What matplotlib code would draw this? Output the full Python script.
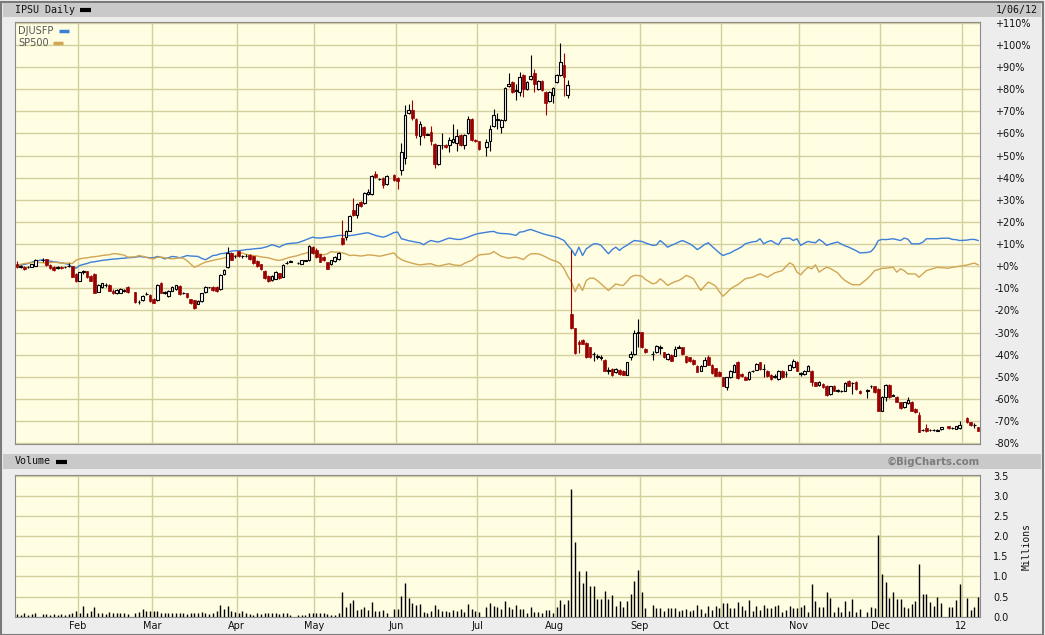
import matplotlib
matplotlib.use("Agg")
import matplotlib.pyplot as plt
from matplotlib.patches import Rectangle
from matplotlib.lines import Line2D
import numpy as np
import pandas as pd

# market holidays inside the weekday grid (BigCharts leaves an empty slot)
holidays = ["2011-01-17", "2011-02-21", "2011-04-22", "2011-05-30", "2011-07-04",
            "2011-09-05", "2011-11-24", "2011-12-26", "2012-01-02"]

# IPSU daily candles, % change from first day (one value per trading day)
opens = [
    1.0, -0.5, -0.3, -0.3, -0.2, 0.2, 2.8, 3.2, 0.5, -0.3, -1.0, -0.3, -0.5, 0.2, 0.0, -3.5,
    -6.5, -2.6, -2.4, -4.5, -3.5, -11.5, -9.5, -8.5, -8.5, -11.0, -12.3, -12.0, -10.8, -9.3, -11.8, -16.0, -15.5, -12.5, -13.0,
    -14.8, -15.3, -7.5, -11.8, -13.5, -11.0, -10.5, -9.0, -12.0, -12.3, -15.0, -15.5, -17.0, -15.8, -11.8, -9.6, -9.3, -9.3, -10.5, -3.5, -0.3, 6.0, 4.5,
    6.8, 4.5, 4.8, 5.2, 4.5, 2.3, 0.8, -2.0, -4.5, -6.3, -5.6, -3.3, -4.8, 1.3, 2.0, 1.6, 1.2, 2.6, 2.8, 8.8,
    7.5, 5.3, 4.1, 1.8, 0.8, 2.4, 3.3, 12.7, 13.1, 16.1, 25.6, 23.2, 29.0, 28.7, 32.5, 32.6, 41.6, 39.6, 39.8, 37.1, 41.3,
    39.8, 43.3, 48.8, 69.4, 70.6, 66.7, 58.8, 62.9, 59.8, 60.6, 55.4, 46.2, 55.0, 54.9, 54.9, 56.1, 55.8, 59.4, 54.9, 60.3, 66.7, 57.2,
    56.4, 53.8, 56.4, 63.3, 65.9, 62.9, 65.9, 81.6, 83.3, 79.7, 78.7, 86.6, 80.2, 84.8, 87.2, 79.9, 83.6, 78.7, 74.5, 77.2,
    83.4, 86.6, 90.8, 77.2, -21.6, -28.1, -34.5, -33.3, -34.7, -36.7, -39.5, -40.8, -41.0, -42.4, -47.0, -46.5, -48.0, -46.8, -47.2, -49.0, -41.2, -39.7, -29.9,
    -29.9, -37.4, -39.5, -38.9, -36.6, -38.9, -41.9, -40.1, -40.4, -36.8, -36.7, -40.7, -41.2, -42.2, -45.0, -47.2, -45.0, -41.0, -44.6, -46.2, -47.7,
    -50.2, -54.6, -50.2, -47.7, -43.1, -48.7, -49.9, -51.0, -47.4, -46.8, -43.4, -46.4, -47.2, -49.2, -49.7, -51.0, -47.2, -48.6, -46.8, -45.7, -43.1,
    -48.3, -48.7, -47.2, -47.2, -52.5, -53.8, -53.2, -54.0, -57.8, -54.0, -56.2, -56.4, -56.3, -51.7, -53.0, -52.2, -56.3, -56.3, -54.2, -54.3, -55.5,
    -65.3, -59.3, -53.7, -58.5, -59.0, -61.5, -63.8, -61.8, -61.2, -64.5, -67.3, -73.9, -73.3, -73.9, -74.0, -74.2, -73.8, -72.4, -73.1, -73.5, -73.3,
    -68.8, -70.6, -71.9, -72.8,
]
closes = [
    -0.5, 0.3, -1.2, -0.2, 0.8, 2.8, 3.0, 0.6, -0.8, -1.8, -0.2, -1.0, -0.4, 0.1, -4.8, -6.8,
    -2.8, -2.4, -5.0, -6.5, -12.0, -8.3, -7.8, -8.6, -11.0, -12.3, -10.8, -10.3, -11.0, -11.8, -16.3, -16.2, -13.5, -12.8, -15.8,
    -16.5, -8.3, -12.0, -12.2, -11.0, -9.2, -8.7, -12.7, -12.3, -14.0, -16.7, -18.8, -15.8, -12.3, -9.3, -9.5, -10.8, -11.3, -3.8, -1.8, 6.0, 3.0, 4.4,
    4.5, 4.6, 4.6, 3.3, 1.5, 0.0, -1.5, -5.3, -6.8, -4.5, -2.7, -5.3, 0.5, 1.5, 2.2, 1.5, 2.6, 2.5, 9.0, 6.0,
    4.1, 2.1, 2.6, -1.2, 2.6, 4.1, 6.0, 10.1, 16.1, 22.9, 23.2, 28.2, 27.1, 33.2, 33.5, 40.7, 40.1, 39.4, 36.8, 40.7, 38.8,
    38.3, 51.6, 68.5, 70.6, 67.2, 59.1, 64.4, 59.1, 59.5, 56.4, 46.3, 54.6, 54.9, 53.7, 56.9, 57.6, 58.8, 54.9, 59.4, 66.4, 56.9, 56.6,
    53.1, 56.1, 62.1, 68.5, 66.7, 65.9, 80.5, 82.5, 78.7, 79.4, 85.5, 80.2, 83.3, 86.0, 82.2, 83.6, 79.5, 73.8, 78.7, 80.5,
    86.6, 92.4, 85.5, 81.7, -28.1, -39.2, -35.0, -35.1, -41.2, -41.2, -39.8, -41.0, -41.3, -47.2, -47.3, -49.2, -46.5, -48.7, -49.0, -43.4, -39.7, -30.2, -30.3,
    -36.7, -38.9, -39.7, -36.2, -36.8, -41.2, -39.7, -42.7, -37.4, -36.6, -39.7, -43.4, -43.0, -44.2, -47.7, -45.0, -42.2, -44.6, -48.3, -49.5, -49.5,
    -54.0, -50.2, -47.2, -44.6, -50.7, -49.8, -51.3, -47.7, -47.6, -44.2, -46.5, -46.6, -49.8, -51.0, -49.9, -47.2, -50.2, -48.8, -44.6, -42.7, -47.2,
    -48.6, -47.2, -45.2, -52.2, -54.0, -52.2, -54.8, -58.2, -54.3, -56.3, -56.3, -56.5, -52.8, -54.0, -52.7, -55.5, -57.5, -56.0, -54.4, -57.0, -65.3,
    -59.3, -53.7, -59.3, -58.2, -61.2, -64.3, -61.5, -60.3, -65.3, -66.0, -74.8, -74.1, -74.5, -74.0, -74.2, -74.4, -72.9, -73.3, -73.3, -72.4, -71.8,
    -70.6, -71.8, -71.7, -74.4,
]
highs = [
    2.5, 0.6, 0.0, 0.3, 1.0, 3.1, 3.8, 3.4, 0.8, -0.1, 0.0, 0.0, 0.1, 1.3, 0.3, -3.0,
    -2.5, -1.6, -2.2, -4.2, -3.3, -8.0, -7.5, -7.8, -8.2, -10.5, -10.5, -10.0, -10.2, -9.0, -11.5, -15.3, -13.2, -11.5, -12.7,
    -14.5, -8.0, -7.2, -11.3, -10.7, -8.8, -8.3, -8.7, -11.7, -12.0, -14.7, -15.2, -15.5, -12.0, -9.0, -9.2, -9.0, -9.0, -3.5, -1.5, 8.5, 6.3, 5.0,
    7.0, 5.2, 5.3, 5.5, 4.8, 2.6, 1.1, -1.7, -4.2, -4.2, -2.4, -3.0, 0.8, 2.5, 2.6, 2.0, 2.9, 2.9, 9.5, 9.0,
    8.0, 5.6, 4.4, 2.1, 2.9, 4.4, 6.3, 21.0, 16.5, 23.3, 31.0, 28.6, 29.4, 33.6, 34.8, 41.2, 43.0, 40.0, 40.2, 41.1, 41.7,
    40.3, 55.5, 73.0, 73.2, 75.3, 67.0, 65.5, 63.2, 60.3, 63.6, 55.7, 55.0, 60.0, 55.3, 58.3, 64.4, 62.0, 59.7, 59.8, 67.8, 67.0, 57.6,
    56.8, 57.6, 64.0, 71.0, 69.4, 66.4, 81.0, 87.5, 83.7, 82.4, 87.8, 87.0, 83.7, 95.3, 89.3, 84.0, 84.0, 79.1, 79.1, 81.0,
    87.0, 100.8, 96.4, 84.3, 7.5, -27.8, -33.2, -33.0, -34.4, -36.4, -38.6, -39.8, -40.1, -42.1, -45.8, -46.2, -46.2, -46.5, -46.9, -43.1, -38.3, -29.0, -24.1,
    -29.6, -37.1, -38.5, -35.8, -35.8, -38.6, -39.4, -39.8, -36.0, -35.5, -36.4, -40.4, -40.9, -41.9, -44.7, -44.7, -41.0, -40.0, -44.3, -45.9, -47.4,
    -49.9, -50.0, -46.9, -44.3, -42.8, -48.4, -49.6, -47.4, -46.8, -43.9, -43.1, -44.2, -46.9, -48.9, -48.6, -46.9, -46.9, -47.2, -44.3, -42.0, -42.8,
    -47.8, -46.9, -44.6, -46.9, -52.2, -51.9, -52.9, -53.7, -54.0, -53.7, -55.5, -55.9, -52.5, -51.4, -52.4, -51.9, -56.0, -55.5, -53.5, -54.0, -55.2,
    -58.9, -53.2, -53.4, -57.9, -58.7, -61.2, -61.2, -59.2, -60.9, -64.2, -66.1, -73.4, -71.4, -73.4, -73.6, -73.8, -72.5, -72.1, -72.7, -72.1, -69.8,
    -68.3, -70.3, -70.9, -72.5,
]
lows = [
    -0.8, -0.8, -1.8, -0.8, -0.5, 0.0, 2.0, 0.3, -1.2, -2.3, -1.2, -1.3, -0.8, -0.2, -5.0, -7.0,
    -6.8, -3.5, -5.2, -6.8, -12.3, -11.8, -9.8, -9.3, -11.3, -12.8, -12.6, -12.3, -11.5, -12.2, -16.8, -17.0, -15.8, -13.2, -16.2,
    -16.8, -15.6, -12.3, -12.6, -13.8, -11.3, -10.8, -13.0, -12.6, -14.3, -17.0, -19.2, -17.3, -16.0, -12.1, -9.9, -11.1, -11.6, -10.8, -3.8, -0.6, 2.7, 3.9,
    4.2, 3.9, 4.2, 3.0, 1.2, -0.3, -1.8, -5.6, -7.1, -6.6, -5.9, -5.6, -5.1, 1.0, 1.7, 1.2, 0.9, 2.2, 2.5, 5.7,
    3.8, 1.8, 2.3, -1.5, 0.5, 2.1, 3.0, 9.8, 12.0, 15.8, 22.8, 22.0, 26.7, 28.3, 32.1, 32.2, 39.7, 39.0, 35.5, 36.7, 38.4,
    35.0, 41.0, 46.0, 68.9, 66.0, 58.0, 54.6, 58.0, 59.1, 55.0, 44.5, 45.8, 53.0, 53.3, 51.6, 55.7, 52.3, 54.5, 53.0, 59.9, 56.5, 56.2,
    52.5, 49.8, 52.0, 62.9, 62.1, 60.3, 65.5, 81.2, 78.3, 75.0, 76.9, 76.5, 79.8, 84.4, 78.7, 79.5, 79.1, 68.5, 74.1, 74.0,
    83.0, 86.2, 77.0, 75.9, -28.4, -39.5, -39.2, -35.4, -41.5, -41.5, -42.7, -42.0, -42.3, -47.5, -48.7, -49.5, -48.3, -49.0, -49.3, -49.3, -42.5, -40.0, -36.7,
    -37.0, -39.2, -42.5, -39.2, -39.5, -41.5, -42.2, -43.0, -40.7, -37.2, -40.0, -43.7, -43.3, -44.5, -48.0, -47.5, -45.3, -44.9, -48.6, -49.8, -49.8,
    -54.3, -55.8, -50.5, -48.0, -51.0, -50.1, -51.6, -51.3, -48.0, -47.1, -46.8, -50.2, -50.1, -51.3, -50.6, -51.3, -50.5, -50.2, -47.1, -46.0, -47.5,
    -49.5, -49.0, -47.5, -54.0, -54.3, -54.1, -55.1, -58.5, -58.1, -56.6, -57.0, -57.0, -56.6, -54.3, -58.0, -55.8, -57.8, -59.5, -55.0, -57.3, -65.6,
    -65.6, -60.8, -59.6, -58.8, -61.5, -64.6, -64.1, -62.1, -65.6, -66.3, -75.1, -74.7, -74.8, -74.6, -74.6, -74.7, -74.1, -73.6, -73.8, -73.8, -73.6,
    -70.9, -72.1, -73.3, -74.7,
]

# comparison lines, % change
djusfp = [
    0.0, 0.5, 0.8, 1.2, 1.8, 2.3, 2.9, 2.5, 2.3, 2.0, 1.8, 1.5, 1.2, 0.8, -0.5, -0.9,
    0.3, 0.8, 1.2, 1.8, 2.0, 2.3, 2.6, 2.8, 3.0, 3.2, 3.3, 3.5, 3.6, 3.8, 4.0, 4.4, 4.2, 4.0, 3.8,
    3.8, 4.4, 4.0, 3.3, 3.8, 4.4, 4.2, 3.8, 4.2, 4.8, 4.6, 4.5, 4.4, 3.5, 2.9, 3.8, 4.8, 5.0, 5.6, 5.8, 6.2, 6.8, 7.0,
    7.0, 7.2, 7.5, 7.6, 7.8, 8.0, 8.1, 8.5, 9.0, 9.7, 9.2, 8.6, 9.5, 10.1, 10.3, 10.6, 11.2, 11.8, 12.5, 13.1,
    12.8, 12.7, 12.9, 13.1, 13.3, 13.6, 13.9, 13.9, 13.9, 13.8, 14.0, 14.3, 14.6, 14.9, 15.1, 14.5, 13.9, 13.5, 13.1, 13.6, 15.2,
    15.4, 12.4, 12.0, 11.5, 11.2, 10.8, 10.6, 9.7, 10.8, 11.6, 11.2, 10.9, 11.5, 12.2, 12.7, 12.4, 12.1, 12.1, 12.6, 13.1, 13.8, 14.4,
    14.8, 15.3, 15.6, 15.7, 15.0, 14.8, 14.7, 14.6, 14.3, 13.9, 15.4, 15.6, 16.2, 16.6, 16.0, 15.4, 14.8, 14.3, 13.9, 13.5,
    13.1, 12.4, 11.6, 9.4, 7.5, 4.8, 8.6, 4.8, 7.8, 9.0, 10.1, 10.1, 9.4, 7.5, 5.6, 7.5, 8.6, 7.1, 8.5, 9.4, 10.6, 11.6, 11.4,
    11.2, 10.5, 9.4, 9.6, 11.6, 10.2, 8.6, 9.4, 10.1, 10.9, 11.6, 10.9, 10.1, 9.0, 7.5, 8.5, 9.8, 10.6, 9.0, 7.5, 6.0,
    4.8, 5.5, 6.0, 7.0, 7.8, 8.7, 10.1, 10.6, 11.0, 11.2, 12.4, 10.1, 11.0, 11.6, 10.5, 9.7, 12.4, 12.6, 12.7, 11.6, 12.4,
    9.4, 10.4, 11.2, 10.8, 10.6, 12.1, 11.0, 9.4, 10.0, 10.5, 10.9, 10.0, 9.2, 8.6, 7.8, 7.0, 6.0, 6.2, 6.6, 8.5, 11.6,
    12.1, 12.0, 12.2, 12.4, 12.0, 11.6, 12.7, 12.2, 10.1, 10.1, 10.1, 10.8, 12.4, 12.4, 12.4, 12.4, 12.6, 12.7, 12.1, 12.0, 11.6,
    11.8, 12.1, 12.1, 11.6,
]
sp500 = [
    0.3, 0.8, 1.2, 1.4, 1.6, 1.8, 1.5, 1.4, 1.6, 1.8, 1.6, 1.4, 1.3, 1.4, 1.2, 2.7,
    3.3, 3.6, 3.8, 4.1, 4.3, 4.5, 4.8, 5.0, 5.2, 5.6, 5.6, 5.3, 5.0, 4.1, 4.2, 4.8, 4.5, 4.0, 3.5,
    3.3, 4.0, 4.1, 3.8, 3.5, 3.3, 3.5, 3.8, 3.6, 2.5, 1.0, -0.5, 0.2, 1.1, 1.8, 2.2, 2.6, 3.0, 3.3, 3.7, 4.0, 4.4, 4.6,
    5.6, 6.0, 5.3, 5.1, 4.8, 4.6, 4.2, 4.0, 3.8, 3.3, 2.8, 2.6, 3.0, 3.6, 4.1, 4.8, 5.4, 5.8, 6.3, 6.5,
    6.0, 5.5, 5.1, 5.6, 6.6, 6.3, 6.4, 6.0, 5.6, 4.8, 5.0, 4.8, 4.6, 4.8, 5.1, 5.0, 4.8, 4.5, 4.8, 5.2, 6.0,
    4.1, 3.0, 2.3, 1.8, 1.3, 0.9, 0.6, 0.8, 1.0, 1.1, 0.5, 0.0, 0.4, 0.8, 1.1, 0.6, 0.4, 0.3, 1.2, 2.0, 2.6, 4.0,
    5.1, 5.4, 5.6, 6.6, 5.5, 4.5, 4.0, 3.6, 3.9, 4.1, 3.6, 3.0, 4.5, 5.6, 5.6, 5.6, 5.0, 4.2, 3.3, 2.6,
    2.2, 1.1, -1.2, -4.5, -7.2, -11.5, -8.0, -11.0, -6.5, -5.4, -5.4, -6.5, -8.0, -9.5, -11.0, -9.5, -8.0, -8.5, -8.7, -7.0, -5.0, -4.2, -4.2,
    -4.5, -6.0, -8.0, -7.5, -5.7, -7.0, -8.7, -7.8, -7.0, -6.5, -5.5, -4.2, -4.8, -5.7, -8.5, -11.0, -9.0, -7.2, -8.0, -9.0, -11.5,
    -13.6, -12.0, -10.3, -9.2, -8.4, -7.0, -5.7, -5.3, -5.0, -4.2, -3.5, -4.2, -5.0, -4.0, -3.0, -2.5, -2.0, -0.2, 1.5, 0.6, -2.7,
    -3.9, -2.0, -0.5, -1.2, 0.6, -2.7, -1.5, -0.5, -1.0, -2.0, -3.0, -5.0, -6.5, -7.5, -8.4, -8.4, -8.4, -5.7, -4.0, -2.0, -1.5,
    -1.0, -0.9, -0.7, -0.5, -2.7, -1.2, -2.0, -3.5, -3.5, -3.5, -5.0, -3.5, -2.0, -1.5, -1.0, -0.5, -0.7, -0.9, -0.5, -0.3, 0.0,
    0.5, 1.0, 1.4, 0.6,
]

# daily volume, millions of shares
volume = [
    0.06, 0.05, 0.08, 0.05, 0.06, 0.08, 0.07, 0.06, 0.05, 0.06, 0.05, 0.06, 0.05, 0.07, 0.10, 0.15,
    0.10, 0.27, 0.10, 0.15, 0.25, 0.08, 0.10, 0.06, 0.12, 0.10, 0.08, 0.08, 0.08, 0.06, 0.10, 0.12, 0.18, 0.15, 0.15,
    0.15, 0.15, 0.10, 0.08, 0.08, 0.08, 0.08, 0.08, 0.08, 0.06, 0.08, 0.10, 0.10, 0.12, 0.10, 0.06, 0.10, 0.15, 0.28, 0.18, 0.27, 0.15, 0.12,
    0.10, 0.15, 0.08, 0.06, 0.05, 0.08, 0.06, 0.10, 0.08, 0.08, 0.08, 0.06, 0.08, 0.08, 0.05, 0.03, 0.05, 0.05, 0.10, 0.08,
    0.08, 0.08, 0.08, 0.06, 0.05, 0.03, 0.08, 0.62, 0.25, 0.33, 0.41, 0.17, 0.18, 0.23, 0.17, 0.36, 0.15, 0.15, 0.17, 0.10, 0.20,
    0.20, 0.51, 0.83, 0.46, 0.33, 0.29, 0.32, 0.12, 0.10, 0.15, 0.29, 0.18, 0.15, 0.15, 0.12, 0.17, 0.15, 0.20, 0.12, 0.32, 0.20, 0.15,
    0.12, 0.25, 0.33, 0.27, 0.25, 0.20, 0.38, 0.23, 0.20, 0.29, 0.20, 0.19, 0.10, 0.23, 0.12, 0.12, 0.08, 0.17, 0.17, 0.10,
    0.25, 0.41, 0.32, 0.41, 3.17, 1.85, 1.14, 0.85, 1.14, 0.76, 0.76, 0.44, 0.44, 0.64, 0.44, 0.54, 0.27, 0.39, 0.25, 0.39, 0.56, 0.89, 1.16,
    0.61, 0.22, 0.29, 0.22, 0.22, 0.14, 0.21, 0.21, 0.21, 0.14, 0.17, 0.20, 0.14, 0.17, 0.29, 0.18, 0.10, 0.27, 0.17, 0.27, 0.22,
    0.33, 0.33, 0.21, 0.22, 0.36, 0.27, 0.17, 0.41, 0.14, 0.27, 0.17, 0.29, 0.22, 0.22, 0.27, 0.29, 0.12, 0.17, 0.27, 0.22, 0.22,
    0.25, 0.29, 0.11, 0.81, 0.39, 0.25, 0.25, 0.61, 0.46, 0.11, 0.25, 0.11, 0.39, 0.14, 0.44, 0.11, 0.18, 0.11, 0.25, 0.22, 2.03,
    1.06, 0.87, 0.46, 0.62, 0.43, 0.43, 0.25, 0.22, 0.32, 0.39, 1.31, 0.56, 0.56, 0.36, 0.27, 0.50, 0.35, 0.25, 0.25, 0.41, 0.81,
    0.47, 0.17, 0.25, 0.50,
]

W, H = 1045, 635
BG = "#fffde2"
GRID = "#d4d09e"
RED = "#990000"
BLUE = "#3c7fd8"
GOLD = "#d1a653"
FRAME = "#ededed"
BAR = "#c9c9c9"
SPINE = "#8c8c8c"


def box(left, top, right, bottom):
    """Pixel box (from top-left) -> figure fraction rect."""
    return [left / W, 1 - bottom / H, (right - left) / W, (bottom - top) / H]


def fy(y):
    return 1 - y / H


days = pd.bdate_range("2011-01-07", "2012-01-06")
trading = ~days.isin(pd.to_datetime(holidays))
x = np.arange(len(days))[trading]
months = np.asarray(days.month)
month_start = np.flatnonzero(np.diff(months) != 0) + 1
month_labels = [d.strftime("%y") if d.month == 1 else d.strftime("%b") for d in days[month_start]]
edges = month_start - 0.5

o = np.array(opens); c = np.array(closes)
hi = np.array(highs); lo = np.array(lows)
dj = np.array(djusfp); sp = np.array(sp500)
vol = np.array(volume)

fig = plt.figure(figsize=(W / 100, H / 100), dpi=100, facecolor=FRAME)
fig.patches.append(Rectangle((0.5 / W, 0.5 / H), (W - 2.5) / W, (H - 2.5) / H,
                             transform=fig.transFigure, fill=False, edgecolor="#7a7a7a", lw=1.5))
for top, bot in [(3, 17), (454, 469)]:
    fig.patches.append(Rectangle((3 / W, fy(bot)), (1041 - 3) / W, (bot - top) / H,
                                 transform=fig.transFigure, facecolor=BAR, edgecolor="none"))

mono = "DejaVu Sans Mono"
fig.text(15 / W, fy(10), "IPSU Daily", fontsize=7.2, family=mono, va="center", color="#111111")
fig.add_artist(Line2D([80 / W, 91 / W], [fy(10)] * 2, color="black", lw=3, solid_capstyle="butt"))
fig.text(1038 / W, fy(10), "1/06/12", fontsize=7.2, family=mono, va="center", ha="right", color="#111111")
fig.text(15 / W, fy(461.5), "Volume", fontsize=7.2, family=mono, va="center", color="#111111")
fig.add_artist(Line2D([56 / W, 67 / W], [fy(461.5)] * 2, color="black", lw=3, solid_capstyle="butt"))
fig.text(980 / W, fy(461.5), "\u00a9BigCharts.com", fontsize=7.3, weight="bold", va="center", ha="right",
         color="#7c7c7c")

# ---- price panel
ax = fig.add_axes(box(15, 22, 980, 444), facecolor=BG)
ax.set_xlim(-0.5, len(days) - 0.5)
ax.set_ylim(-80.4, 110.4)
ax.set_xticks(edges)
ax.tick_params(axis="x", length=0, labelbottom=False)
yt = np.arange(-80, 111, 10)
ax.set_yticks(yt)
ax.set_yticklabels([f"{v:+d}%" for v in yt])
ax.yaxis.tick_right()
ax.tick_params(axis="y", length=0, pad=10.5, labelsize=7, labelcolor="#111111")
ax.grid(color=GRID, lw=1.0)
ax.set_axisbelow(True)
for s in ax.spines.values():
    s.set_color(SPINE)

ax.plot(x, dj, color=BLUE, lw=1.0, zorder=2)
ax.plot(x, sp, color=GOLD, lw=1.0, zorder=2)

hollow = (c >= o) | (np.abs(c - o) < 0.5)
ax.vlines(x[hollow], lo[hollow], hi[hollow], color="black", lw=0.8, zorder=3)
ax.vlines(x[~hollow], lo[~hollow], hi[~hollow], color=RED, lw=0.8, zorder=3)
ax.bar(x[hollow], np.abs(c - o)[hollow], bottom=np.minimum(o, c)[hollow], width=0.72,
       facecolor="white", edgecolor="black", lw=0.8, zorder=4)
ax.bar(x[~hollow], (o - c)[~hollow], bottom=c[~hollow], width=0.72,
       facecolor=RED, edgecolor=RED, lw=0.5, zorder=4)

fig.text(18 / W, fy(31), "DJUSFP", fontsize=7, va="center", color="#555555")
fig.add_artist(Line2D([59 / W, 69 / W], [fy(31)] * 2, color=BLUE, lw=2.5, solid_capstyle="butt"))
fig.text(18 / W, fy(42.5), "SP500", fontsize=7, va="center", color="#555555")
fig.add_artist(Line2D([53 / W, 63 / W], [fy(42.5)] * 2, color=GOLD, lw=2.5, solid_capstyle="butt"))

# ---- volume panel
ax2 = fig.add_axes(box(15, 475, 980, 617), facecolor=BG)
ax2.set_xlim(-0.5, len(days) - 0.5)
ax2.set_ylim(-0.01, 3.53)
ax2.set_xticks(edges)
ax2.set_xticklabels(month_labels)
ax2.tick_params(axis="x", length=0, pad=3, labelsize=7, labelcolor="#111111")
vt = np.arange(0, 3.51, 0.5)
ax2.set_yticks(vt)
ax2.set_yticklabels([f"{v:.1f}" for v in vt])
ax2.yaxis.tick_right()
ax2.tick_params(axis="y", length=0, pad=9.5, labelsize=7, labelcolor="#111111")
ax2.grid(color=GRID, lw=1.0)
ax2.set_axisbelow(True)
for s in ax2.spines.values():
    s.set_color(SPINE)
ax2.vlines(x, 0, vol, color="black", lw=1.0, zorder=3)

fig.text(1027 / W, fy(547), "Millions", rotation=90, fontsize=7, family=mono,
         va="center", ha="center", color="#111111")

fig.savefig("out.png", dpi=100, facecolor=FRAME)
